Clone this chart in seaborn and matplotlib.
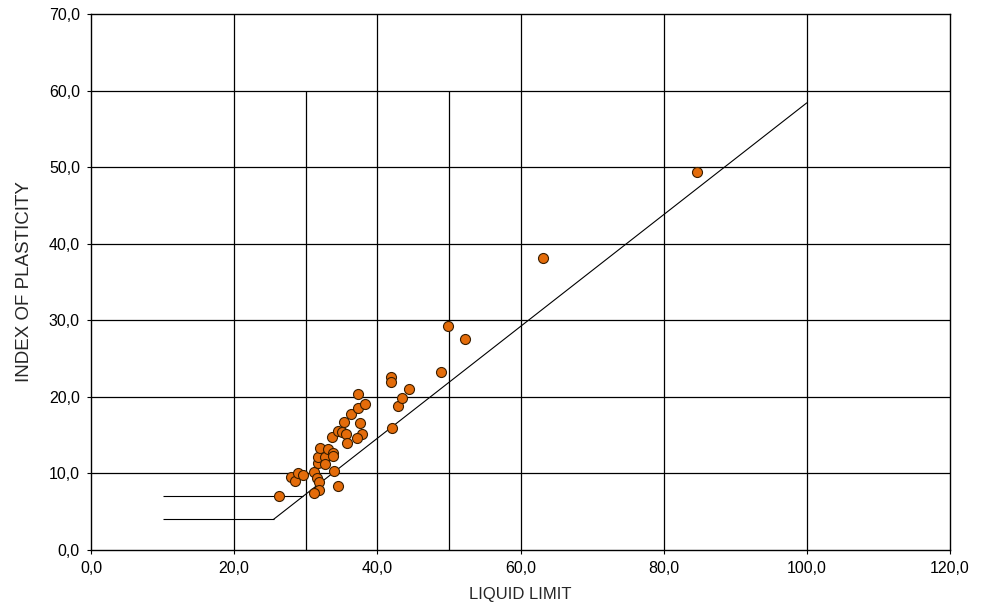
import matplotlib
matplotlib.use("Agg")
import matplotlib.pyplot as plt
import matplotlib.ticker as mticker
import seaborn as sns
import pandas as pd

# -- data --
liquid_limit = [26.3, 27.9, 28.5, 28.9, 29.6, 31.2, 31.6, 31.8, 31.9, 31.2,
                31.7, 31.7, 32.0, 32.7, 32.7, 33.1, 33.8, 33.8, 33.9, 34.5,
                33.7, 34.5, 35.1, 35.6, 35.8, 35.3, 36.3, 37.3, 37.3, 38.3,
                37.6, 37.9, 37.2, 41.9, 41.9, 42.0, 42.9, 43.4, 44.4, 48.9,
                49.9, 52.2, 63.1, 84.7]
plasticity = [7.0, 9.5, 9.0, 10.0, 9.8, 10.2, 9.4, 8.9, 7.8, 7.4,
              11.4, 12.1, 13.3, 12.1, 11.2, 13.2, 12.7, 12.3, 10.3, 8.4,
              14.8, 15.5, 15.4, 15.2, 14.0, 16.7, 17.8, 18.5, 20.4, 19.1,
              16.6, 15.1, 14.6, 22.6, 22.0, 15.9, 18.8, 19.9, 21.0, 23.3,
              29.2, 27.6, 38.1, 49.4]

# A-line and its lower horizontal parts
a_line_x = [25.5, 100.0]
a_line_y = [4.0, 58.4]
low_lines_y = [4.0, 7.0]
low_lines_x0 = [10.0, 10.0]
low_lines_x1 = [25.5, 29.6]

# extra liquid-limit boundaries (drawn up to PI = 60)
boundary_ll = [30, 50]
boundary_top = 60

x_ticks = [0, 20, 40, 60, 80, 100, 120]
y_ticks = [0, 10, 20, 30, 40, 50, 60, 70]

df = pd.DataFrame({"ll": liquid_limit, "pi": plasticity})

sns.set_style("white")
plt.rcParams["font.family"] = ["Liberation Sans", "DejaVu Sans"]

fig = plt.figure(figsize=(9.88, 6.09), dpi=100)
ax = fig.add_axes([91 / 988, 59 / 609, 859 / 988, 536 / 609])

# grid
for yv in y_ticks[1:-1]:
    ax.axhline(yv, color="black", linewidth=0.9, zorder=1)
for xv in x_ticks[1:-1]:
    ax.axvline(xv, color="black", linewidth=0.9, zorder=1)
ax.vlines(boundary_ll, 0, boundary_top, color="black", linewidth=0.9, zorder=1)

# A-line
ax.plot(a_line_x, a_line_y, color="black", linewidth=0.8, zorder=2)
ax.hlines(low_lines_y, low_lines_x0, low_lines_x1, color="black", linewidth=0.8, zorder=2)

sns.scatterplot(data=df, x="ll", y="pi", ax=ax, color="#E46C0A", edgecolor="#3a1e00",
                linewidth=0.8, s=52, zorder=3)

ax.set_xlim(0, 120)
ax.set_ylim(0, 70)
ax.set_xticks(x_ticks)
ax.set_yticks(y_ticks)
fmt = mticker.FuncFormatter(lambda v, p: f"{v:.1f}".replace(".", ","))
ax.xaxis.set_major_formatter(fmt)
ax.yaxis.set_major_formatter(fmt)
ax.tick_params(axis="both", which="major", direction="out", length=3, width=0.8,
               labelsize=11.5, colors="black", bottom=True, left=True, pad=5)

for side in ["left", "bottom", "right", "top"]:
    ax.spines[side].set_color("black")
    ax.spines[side].set_linewidth(1.0)

ax.set_xlabel("LIQUID LIMIT", fontsize=12, labelpad=8)
ax.set_ylabel("INDEX OF PLASTICITY", fontsize=13.5, labelpad=11)

plt.savefig("out.png", dpi=100)
plt.close()
print("saved: out.png")
